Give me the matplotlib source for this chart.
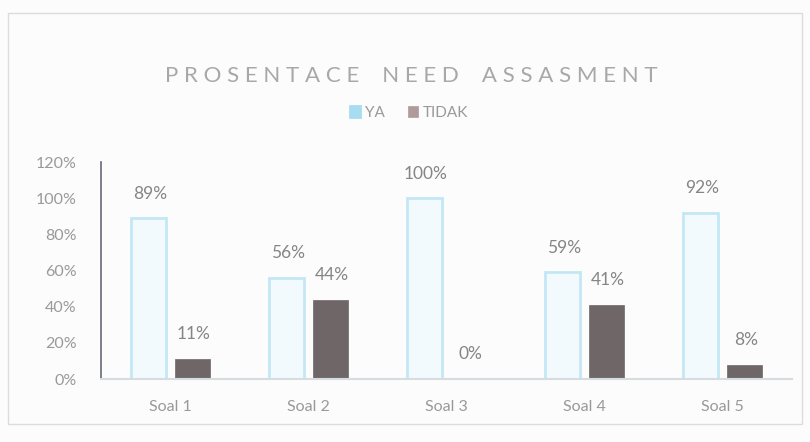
import numpy as np
import matplotlib.pyplot as plt
from matplotlib.patches import Rectangle

# data
soal = ['Soal 1', 'Soal 2', 'Soal 3', 'Soal 4', 'Soal 5']
ya = [89, 56, 100, 59, 92]
tidak = [11, 44, 0, 41, 8]
yticks = [0, 20, 40, 60, 80, 100, 120]
title = 'PROSENTACE NEED ASSASMENT'

plt.rcParams['font.family'] = ['Lato', 'DejaVu Sans']

fig = plt.figure(figsize=(8.1, 4.42), dpi=100)
fig.patch.set_facecolor('#fbfcfb')
# faint frame round the chart
fig.patches.append(Rectangle((0.01, 0.04), 0.98, 0.93, transform=fig.transFigure,
                             fill=False, edgecolor='#dcdcdc', linewidth=1))

ax = fig.add_axes([0.1253, 0.1425, 0.852, 0.4905])
ax.set_facecolor('none')

x = np.arange(len(soal))
w = 0.254
off = 0.16
bars_ya = ax.bar(x - off, [v / 100 for v in ya], w, color='#f3fafd',
                 edgecolor='#c3e7f5', linewidth=2, label='YA')
bars_td = ax.bar(x + off, [v / 100 for v in tidak], w, color='#6f6767',
                 edgecolor='#6f6767', linewidth=0.5, label='TIDAK')

for bars, vals in [(bars_ya, ya), (bars_td, tidak)]:
    for b, v in zip(bars, vals):
        ax.annotate(f'{v}%', (b.get_x() + b.get_width() / 2, b.get_height()),
                    xytext=(1, 12), textcoords='offset points', ha='center', va='bottom',
                    fontsize=12.5, color='#858585')

ax.set_xlim(-0.5, 4.5)
ax.set_ylim(0, 1.2)
ax.set_yticks([t / 100 for t in yticks])
ax.set_yticklabels([f'{t}%' for t in yticks])
ax.set_xticks(x)
ax.set_xticklabels(soal)
ax.tick_params(axis='y', length=0, pad=18, labelsize=11.5, labelcolor='#999999')
ax.tick_params(axis='x', length=0, pad=15, labelsize=11.5, labelcolor='#999999')

for s in ['top', 'right']:
    ax.spines[s].set_visible(False)
ax.spines['left'].set_color('#6a6a7a')
ax.spines['left'].set_linewidth(1.2)
ax.spines['bottom'].set_color('#d6dde0')
ax.spines['bottom'].set_linewidth(1.5)

# title is letter-spaced in the original
fig.text(0.508, 0.828, ' '.join(title).replace('   ', '    '), ha='center', va='center',
         fontsize=16, color='#a8a8a8')

leg = fig.legend(handles=[bars_ya, bars_td], loc='center', bbox_to_anchor=(0.505, 0.745),
                 ncol=2, frameon=False, fontsize=11, labelcolor='#9a9a9a',
                 handlelength=0.7, handleheight=0.7, handletextpad=0.3, columnspacing=1.5)
leg.legend_handles[0].set_facecolor('#a9dcf0')
leg.legend_handles[0].set_edgecolor('#a9dcf0')
leg.legend_handles[1].set_facecolor('#b09a9a')
leg.legend_handles[1].set_edgecolor('#b09a9a')

fig.savefig('out.png', dpi=100, facecolor=fig.get_facecolor())
